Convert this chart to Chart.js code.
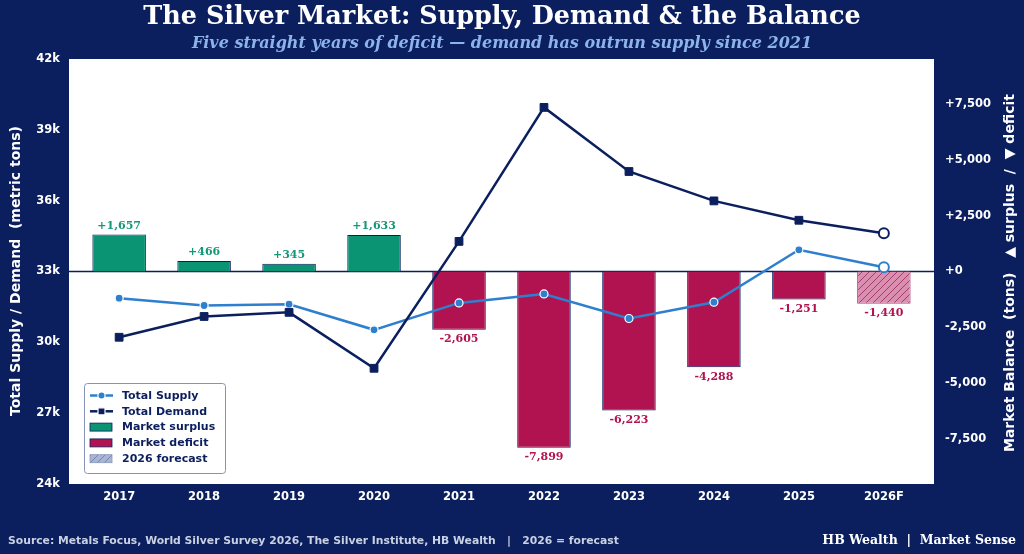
<!DOCTYPE html>
<html>
<head>
<meta charset="utf-8">
<script src="https://cdn.jsdelivr.net/npm/chart.js@4.4.1/dist/chart.umd.min.js"></script>
<style>
  html, body { margin: 0; padding: 0; background: #0b1f5e; }
  canvas { display: block; }
</style>
</head>
<body>
<canvas id="silverChart" width="1024" height="554"></canvas>
<script>
// data (metric tons)
const years = ['2017', '2018', '2019', '2020', '2021', '2022', '2023', '2024', '2025', '2026F'];
const supply = [31870, 31560, 31615, 30530, 31670, 32050, 31010, 31700, 33920, 33180];
const demand = [30215, 31095, 31270, 28900, 34275, 39950, 37235, 35990, 35170, 34620];
const balance = [1657, 466, 345, 1633, -2605, -7899, -6223, -4288, -1251, -1440];
const leftTicks = [24000, 27000, 30000, 33000, 36000, 39000, 42000];
const rightTicks = [-7500, -5000, -2500, 0, 2500, 5000, 7500];

const NAVY = '#0b1f5e';
const GREEN = '#0a9474';
const RED = '#b0134f';
const BLUE = '#2f7fcf';
const last = years.length - 1;

const canvas = document.getElementById('silverChart');
const ctx = canvas.getContext('2d');

// hatched fill for the forecast bar
function makeHatch(bg, fg) {
    const c = document.createElement('canvas');
    c.width = 7; c.height = 7;
    const g = c.getContext('2d');
    g.fillStyle = bg;
    g.fillRect(0, 0, 7, 7);
    g.strokeStyle = fg;
    g.lineWidth = 1;
    g.beginPath();
    g.moveTo(0, 7); g.lineTo(7, 0);
    g.moveTo(-1, 1); g.lineTo(1, -1);
    g.moveTo(6, 8); g.lineTo(8, 6);
    g.stroke();
    return ctx.createPattern(c, 'repeat');
}
const forecastFill = makeHatch('#d98fb0', '#a83a70');
const legendHatch = makeHatch('#a9b6d3', '#7786ad');

const fmtSigned = v => (v > 0 ? '+' : v < 0 ? '-' : '+') + Math.abs(v).toLocaleString('en-US');

const pagePlugin = {
    id: 'page',
    beforeDraw(chart) {
        const c = chart.ctx, a = chart.chartArea;
        c.save();
        c.fillStyle = NAVY;
        c.fillRect(0, 0, chart.width, chart.height);
        c.fillStyle = '#ffffff';
        c.fillRect(a.left, a.top, a.right - a.left, a.bottom - a.top);
        c.restore();
    },
    beforeDatasetsDraw(chart) {
        const c = chart.ctx, a = chart.chartArea;
        const y0 = chart.scales.y2.getPixelForValue(0);
        c.save();
        c.strokeStyle = NAVY;
        c.lineWidth = 1.5;
        c.beginPath();
        c.moveTo(a.left, y0);
        c.lineTo(a.right, y0);
        c.stroke();
        c.restore();
    },
    afterDatasetsDraw(chart) {
        // value labels on the balance bars
        const c = chart.ctx;
        const bars = chart.getDatasetMeta(0).data;
        c.save();
        c.font = 'bold 11px "DejaVu Serif"';
        c.textAlign = 'center';
        bars.forEach((el, i) => {
            const v = balance[i];
            if (v >= 0) {
                c.fillStyle = '#16977a';
                c.textBaseline = 'bottom';
                c.fillText(fmtSigned(v), el.x, el.y - 3);
            } else {
                c.fillStyle = RED;
                c.textBaseline = 'top';
                c.fillText(fmtSigned(v), el.x, el.y + 4);
            }
        });
        c.restore();
    },
    afterDraw(chart) {
        const c = chart.ctx;
        c.save();
        // title and subtitle
        c.textAlign = 'center';
        c.textBaseline = 'middle';
        c.fillStyle = '#ffffff';
        c.font = 'bold 25.5px "DejaVu Serif"';
        c.fillText('The Silver Market: Supply, Demand & the Balance', 502, 17);
        c.fillStyle = '#8db4ea';
        c.font = 'italic bold 16px "DejaVu Serif"';
        c.fillText('Five straight years of deficit \u2014 demand has outrun supply since 2021', 502, 44);

        // axis titles, both reading bottom to top
        c.fillStyle = '#ffffff';
        c.font = 'bold 14px "DejaVu Sans"';
        c.save();
        c.translate(16, 271);
        c.rotate(-Math.PI / 2);
        c.fillText('Total Supply / Demand  (metric tons)', 0, 0);
        c.restore();
        c.save();
        c.translate(1010, 273);
        c.rotate(-Math.PI / 2);
        c.fillText('Market Balance  (tons)   \u25B2 surplus  /  \u25BC deficit', 0, 0);
        c.restore();

        // footer
        c.textAlign = 'left';
        c.fillStyle = '#c9d1e3';
        c.font = 'bold 10.8px "DejaVu Sans"';
        c.fillText('Source: Metals Focus, World Silver Survey 2026, The Silver Institute, HB Wealth   |   2026 = forecast', 8, 541);
        c.textAlign = 'right';
        c.fillStyle = '#ffffff';
        c.font = 'bold 12.5px "DejaVu Serif"';
        c.fillText('HB Wealth  |  Market Sense', 1016, 541);

        // legend box in the lower left of the plot
        const bx = 84.5, by = 383.5, bw = 141, bh = 90;
        c.beginPath();
        c.roundRect(bx, by, bw, bh, 3);
        c.fillStyle = 'rgba(255,255,255,0.92)';
        c.fill();
        c.strokeStyle = '#8593b8';
        c.lineWidth = 1;
        c.stroke();

        const rows = ['Total Supply', 'Total Demand', 'Market surplus', 'Market deficit', '2026 forecast'];
        rows.forEach((label, i) => {
            const y = 395.5 + i * 15.8;
            if (i < 2) {
                const col = i === 0 ? BLUE : NAVY;
                c.strokeStyle = col;
                c.lineWidth = 2.5;
                c.beginPath();
                c.moveTo(90, y); c.lineTo(113, y);
                c.stroke();
                c.fillStyle = col;
                c.strokeStyle = '#ffffff';
                c.lineWidth = 1.2;
                c.beginPath();
                if (i === 0) c.arc(101.5, y, 3.6, 0, Math.PI * 2);
                else c.rect(98, y - 3.5, 7, 7);
                c.fill();
                c.stroke();
            } else {
                c.fillStyle = i === 2 ? GREEN : i === 3 ? RED : legendHatch;
                c.fillRect(90, y - 4, 22, 8);
                c.strokeStyle = i === 4 ? '#8a97bb' : NAVY;
                c.lineWidth = 0.8;
                c.strokeRect(90, y - 4, 22, 8);
            }
            c.fillStyle = NAVY;
            c.font = 'bold 11px "DejaVu Sans"';
            c.textAlign = 'left';
            c.textBaseline = 'middle';
            c.fillText(label, 122, y + 0.5);
        });
        c.restore();
    }
};

const tickFont = { family: 'DejaVu Sans', size: 11.5, weight: 'bold' };

const silverChart = new Chart(ctx, {
    data: {
        datasets: [
            {
                type: 'bar',
                label: 'Market balance',
                data: balance.map((v, i) => ({ x: i, y: v })),
                yAxisID: 'y2',
                backgroundColor: balance.map((v, i) => i === last ? forecastFill : v >= 0 ? GREEN : RED),
                borderColor: balance.map((v, i) => i === last ? '#b04a80' : NAVY),
                borderWidth: 1,
                categoryPercentage: 0.63,
                barPercentage: 1,
                order: 3
            },
            {
                type: 'line',
                label: 'Total Supply',
                data: supply.map((v, i) => ({ x: i, y: v })),
                yAxisID: 'y',
                borderColor: BLUE,
                borderWidth: 2.5,
                pointStyle: 'circle',
                pointRadius: supply.map((v, i) => i === last ? 5 : 4),
                pointBackgroundColor: supply.map((v, i) => i === last ? '#ffffff' : BLUE),
                pointBorderColor: supply.map((v, i) => i === last ? BLUE : '#ffffff'),
                pointBorderWidth: supply.map((v, i) => i === last ? 2 : 1.2),
                tension: 0,
                order: 2
            },
            {
                type: 'line',
                label: 'Total Demand',
                data: demand.map((v, i) => ({ x: i, y: v })),
                yAxisID: 'y',
                borderColor: NAVY,
                borderWidth: 2.5,
                pointStyle: demand.map((v, i) => i === last ? 'circle' : 'rect'),
                pointRadius: demand.map((v, i) => i === last ? 5 : 5.5),
                pointBackgroundColor: demand.map((v, i) => i === last ? '#ffffff' : NAVY),
                pointBorderColor: NAVY,
                pointBorderWidth: demand.map((v, i) => i === last ? 2 : 1),
                tension: 0,
                order: 1
            }
        ]
    },
    options: {
        responsive: false,
        animation: false,
        layout: { padding: { top: 59, left: 0, right: 0, bottom: 0 } },
        plugins: {
            legend: { display: false },
            tooltip: { enabled: false }
        },
        scales: {
            x: {
                type: 'linear',
                offset: false,
                min: -0.59,
                max: 9.59,
                afterBuildTicks: s => { s.ticks = years.map((y, i) => ({ value: i })); },
                afterFit: s => { s.height = 70; },
                grid: { display: false, drawTicks: false, offset: false },
                border: { display: false },
                ticks: {
                    color: '#ffffff',
                    font: tickFont,
                    padding: 6,
                    maxRotation: 0,
                    autoSkip: false,
                    callback: v => years[v]
                }
            },
            y: {
                position: 'left',
                min: 24000,
                max: 42000,
                afterBuildTicks: s => { s.ticks = leftTicks.map(v => ({ value: v })); },
                afterFit: s => { s.width = 69; },
                grid: { display: false, drawTicks: false },
                border: { display: false },
                ticks: {
                    color: '#ffffff',
                    font: tickFont,
                    padding: 9,
                    callback: v => (v / 1000) + 'k'
                }
            },
            y2: {
                position: 'right',
                min: -9520,
                max: 9520,
                afterBuildTicks: s => { s.ticks = rightTicks.map(v => ({ value: v })); },
                afterFit: s => { s.width = 90; },
                grid: { display: false, drawTicks: false },
                border: { display: false },
                ticks: {
                    color: '#ffffff',
                    font: tickFont,
                    padding: 11,
                    callback: v => fmtSigned(v)
                }
            }
        }
    },
    plugins: [pagePlugin]
});
</script>
</body>
</html>
